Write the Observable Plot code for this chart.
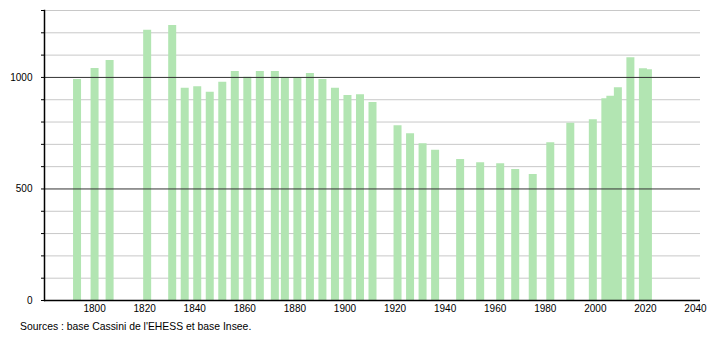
<!DOCTYPE html>
<html>
<head>
<meta charset="utf-8">
<script src="https://cdn.jsdelivr.net/npm/d3@7"></script>
<script src="https://cdn.jsdelivr.net/npm/@observablehq/plot@0.6"></script>
<style>
  body { margin: 0; background: #fff; font-family: "Liberation Sans", Arial, sans-serif; }
  #caption { font-size: 10.4px; color: #000; margin: 3px 0 0 20px; }
</style>
</head>
<body>
<div id="chart"></div>
<div id="caption">Sources : base Cassini de l'EHESS et base Insee.</div>
<script>
const years = [1793,1800,1806,1821,1831,1836,1841,1846,1851,1856,1861,1866,1872,1876,1881,1886,1891,1896,1901,1906,1911,1921,1926,1931,1936,1946,1954,1962,1968,1975,1982,1990,1999,2004,2006,2009,2014,2019,2021];
const population = [991,1040,1076,1211,1233,952,958,934,978,1027,1001,1027,1027,1000,1000,1018,991,951,919,922,888,783,747,703,673,632,617,613,587,565,707,795,810,904,916,954,1088,1039,1034];
const xTicks = [1800,1820,1840,1860,1880,1900,1920,1940,1960,1980,2000,2020,2040];
const yLabels = [0,500,1000];
const minorGrid = [100,200,300,400,600,700,800,900,1100,1200,1300];
const majorGrid = [500,1000];

const data = years.map((y, i) => ({year: y, pop: population[i]}));

const chart = Plot.plot({
  width: 710,
  height: 318,
  marginTop: 10,
  marginBottom: 18,
  marginLeft: 44,
  marginRight: 10,
  style: {fontFamily: "Liberation Sans, Arial, sans-serif", fontSize: "10px", color: "#000", background: "#fff"},
  x: {domain: [1780, 2042], label: null},
  y: {domain: [0, 1300], label: null},
  marks: [
    Plot.ruleY(minorGrid, {stroke: "#c8c8c8", strokeWidth: 1}),
    Plot.ruleX(data, {x: "year", y1: 0, y2: "pop", stroke: "#b2e5b2", strokeWidth: 8}),
    Plot.ruleY(majorGrid, {stroke: "#333", strokeWidth: 1}),
    Plot.axisY({ticks: d3.range(0, 1301, 100), tickSize: 3, tickFormat: () => "", stroke: "#000", label: null}),
    Plot.axisY({ticks: yLabels, tickSize: 0, tickPadding: 12, tickFormat: d => String(d), label: null}),
    Plot.axisX({ticks: xTicks, tickSize: 0, tickPadding: 4, tickFormat: d => String(d), label: null}),
    Plot.frame({anchor: "left", stroke: "#000", strokeWidth: 1.5}),
    Plot.ruleY([0], {stroke: "#000", strokeWidth: 1.5})
  ]
});
document.getElementById("chart").appendChild(chart);
</script>
</body>
</html>
